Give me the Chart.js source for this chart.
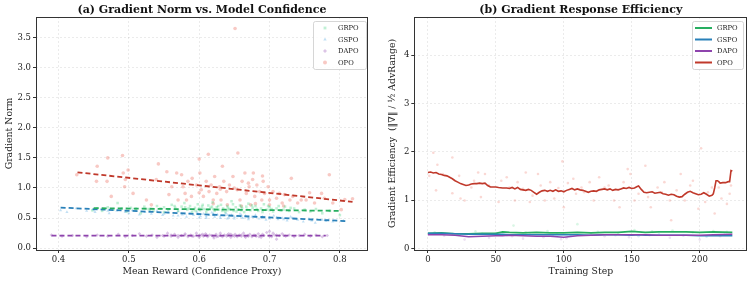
<!DOCTYPE html>
<html>
<head>
<meta charset="utf-8">
<script src="https://cdn.jsdelivr.net/npm/chart.js@4.4.0/dist/chart.umd.min.js"></script>
<style>
  body { margin: 0; background: #fff; }
  #wrap { position: relative; width: 753px; height: 282px; }
  canvas { position: absolute; top: 0; }
</style>
</head>
<body>
<div id="wrap">
  <canvas id="normChart" width="376" height="282" style="left:0"></canvas>
  <canvas id="effChart" width="377" height="282" style="left:376px"></canvas>
</div>
<script>
// ---- (a) gradient norm vs mean reward: [reward, norm] pairs
const grpoPts = [[0.448,0.63],[0.455,0.66],[0.462,0.62],[0.47,0.68],[0.478,0.64],[0.484,0.75],[0.49,0.66],[0.497,0.61],[0.503,0.67],[0.51,0.63],[0.517,0.58],[0.522,0.69],[0.528,0.65],[0.535,0.62],[0.54,0.7],[0.545,0.66],[0.55,0.6],[0.556,0.64],[0.561,0.72],[0.566,0.67],[0.57,0.62],[0.575,0.69],[0.579,0.75],[0.583,0.64],[0.587,0.7],[0.59,0.6],[0.594,0.67],[0.598,0.73],[0.601,0.63],[0.604,0.69],[0.607,0.65],[0.61,0.6],[0.613,0.71],[0.616,0.67],[0.619,0.76],[0.622,0.62],[0.625,0.68],[0.628,0.64],[0.631,0.72],[0.634,0.66],[0.637,0.6],[0.64,0.7],[0.643,0.65],[0.646,0.78],[0.649,0.62],[0.652,0.68],[0.655,0.64],[0.658,0.71],[0.661,0.66],[0.664,0.6],[0.667,0.69],[0.67,0.74],[0.673,0.63],[0.676,0.67],[0.68,0.7],[0.684,0.62],[0.688,0.66],[0.692,0.73],[0.696,0.64],[0.7,0.68],[0.705,0.61],[0.71,0.66],[0.716,0.63],[0.722,0.69],[0.728,0.62],[0.735,0.66],[0.742,0.6],[0.75,0.64],[0.758,0.61],[0.766,0.65],[0.775,0.58],[0.786,0.62],[0.8,0.55],
    [0.565,0.7],[0.585,0.66],[0.595,0.62],[0.605,0.72],[0.612,0.64],[0.618,0.69],[0.627,0.7],[0.633,0.62],[0.641,0.67],[0.648,0.73],[0.653,0.61],[0.66,0.69],[0.668,0.64],[0.675,0.71],[0.682,0.65],[0.69,0.6],[0.698,0.7],[0.703,0.65],[0.713,0.7],[0.72,0.64],[0.73,0.67],[0.6,0.66],[0.62,0.65],[0.64,0.63],[0.66,0.63],[0.58,0.68],[0.55,0.68],[0.53,0.64],[0.51,0.66],[0.7,0.63]];
const gspoPts = [[0.403,0.63],[0.412,0.6],[0.425,0.66],[0.44,0.62],[0.452,0.6],[0.463,0.64],[0.472,0.58],[0.483,0.62],[0.495,0.6],[0.505,0.63],[0.515,0.56],[0.523,0.6],[0.532,0.57],[0.54,0.62],[0.548,0.55],[0.556,0.59],[0.563,0.54],[0.57,0.61],[0.576,0.56],[0.582,0.52],[0.587,0.58],[0.592,0.55],[0.597,0.6],[0.602,0.53],[0.606,0.57],[0.61,0.5],[0.614,0.55],[0.618,0.59],[0.622,0.52],[0.626,0.56],[0.63,0.5],[0.634,0.54],[0.638,0.58],[0.642,0.51],[0.646,0.55],[0.65,0.49],[0.654,0.53],[0.658,0.57],[0.662,0.5],[0.666,0.54],[0.67,0.48],[0.675,0.52],[0.68,0.55],[0.685,0.49],[0.69,0.52],[0.695,0.47],[0.7,0.51],[0.706,0.54],[0.712,0.48],[0.718,0.5],[0.725,0.46],[0.732,0.5],[0.74,0.47],[0.748,0.44],[0.756,0.49],[0.765,0.42],[0.775,0.47],[0.79,0.44],[0.805,0.46],
    [0.58,0.57],[0.6,0.56],[0.61,0.53],[0.62,0.55],[0.63,0.53],[0.64,0.55],[0.65,0.52],[0.66,0.55],[0.67,0.51],[0.68,0.52],[0.69,0.5],[0.7,0.49],[0.71,0.51],[0.72,0.48],[0.6,0.51],[0.62,0.57],[0.64,0.49],[0.66,0.52],[0.57,0.54],[0.55,0.57],[0.53,0.6],[0.5,0.58],[0.47,0.62],[0.45,0.63],[0.73,0.52],[0.76,0.46],[0.78,0.45]];
const dapoPts = [[0.39,0.22],[0.405,0.2],[0.42,0.21],[0.44,0.19],[0.455,0.22],[0.47,0.2],[0.485,0.23],[0.495,0.19],[0.505,0.21],[0.515,0.24],[0.525,0.2],[0.533,0.22],[0.54,0.18],[0.548,0.21],[0.555,0.25],[0.56,0.2],[0.565,0.23],[0.57,0.18],[0.575,0.21],[0.58,0.24],[0.584,0.19],[0.588,0.22],[0.592,0.2],[0.596,0.25],[0.6,0.18],[0.603,0.22],[0.606,0.2],[0.609,0.24],[0.612,0.19],[0.615,0.22],[0.618,0.21],[0.621,0.17],[0.624,0.23],[0.627,0.2],[0.63,0.25],[0.633,0.19],[0.636,0.22],[0.639,0.2],[0.642,0.24],[0.645,0.18],[0.648,0.21],[0.651,0.23],[0.654,0.19],[0.657,0.22],[0.66,0.2],[0.663,0.25],[0.666,0.18],[0.669,0.21],[0.672,0.23],[0.675,0.19],[0.678,0.22],[0.681,0.2],[0.684,0.24],[0.688,0.18],[0.692,0.21],[0.696,0.26],[0.7,0.28],[0.703,0.19],[0.707,0.22],[0.71,0.15],[0.714,0.21],[0.718,0.24],[0.723,0.2],[0.728,0.22],[0.735,0.19],[0.742,0.21],[0.75,0.23],[0.758,0.2],[0.766,0.22],[0.775,0.19],[0.782,0.21],
    [0.6,0.21],[0.61,0.22],[0.62,0.2],[0.63,0.21],[0.64,0.22],[0.65,0.2],[0.66,0.22],[0.67,0.2],[0.68,0.21],[0.69,0.23],[0.7,0.2],[0.71,0.22],[0.72,0.21],[0.59,0.2],[0.58,0.22],[0.57,0.21],[0.56,0.22],[0.55,0.2],[0.605,0.23],[0.625,0.19],[0.645,0.23],[0.665,0.2],[0.685,0.19],[0.705,0.25]];
const opoPts = [[0.426,1.22],[0.455,1.36],[0.454,1.11],[0.47,1.5],[0.469,1.11],[0.475,0.86],[0.491,1.54],[0.492,1.25],[0.494,1.02],[0.499,1.3],[0.495,1.14],[0.506,0.91],[0.525,0.8],[0.532,0.72],[0.542,1.4],[0.539,1.14],[0.554,1.27],[0.557,0.89],[0.561,1.02],[0.568,1.25],[0.57,0.8],[0.575,1.22],[0.577,1.02],[0.58,0.91],[0.582,0.8],[0.584,1.11],[0.589,0.86],[0.596,1.05],[0.6,1.48],[0.601,1.25],[0.603,0.97],[0.606,0.86],[0.61,1.11],[0.613,1.56],[0.614,0.94],[0.617,1.05],[0.62,0.8],[0.622,1.19],[0.625,0.91],[0.629,1.02],[0.631,0.8],[0.633,1.36],[0.635,1.11],[0.639,0.94],[0.643,1.05],[0.648,1.19],[0.651,3.65],[0.655,1.58],[0.654,0.97],[0.658,0.8],[0.661,1.11],[0.665,1.25],[0.667,0.91],[0.671,1.02],[0.673,0.72],[0.676,1.14],[0.677,1.25],[0.679,0.86],[0.682,1.05],[0.686,0.94],[0.689,0.8],[0.691,1.11],[0.693,0.91],[0.698,1.02],[0.7,0.8],[0.705,0.94],[0.71,0.83],[0.714,0.91],[0.718,0.75],[0.721,0.89],[0.729,0.8],[0.731,1.16],[0.733,0.86],[0.74,0.75],[0.745,0.8],[0.752,0.8],[0.757,0.92],[0.764,0.75],[0.774,0.91],[0.778,0.83],[0.785,1.22],[0.79,0.75],[0.802,0.64],[0.807,0.81],[0.818,0.82],
    [0.64,0.72],[0.66,0.7],[0.68,0.74],[0.7,0.72],[0.72,0.7],[0.62,0.74],[0.6,0.92],[0.63,0.98],[0.67,1.08],[0.69,1.2],[0.65,1.0],[0.59,1.16]];

// fitted trend endpoints as drawn in the figure: [x0, y0, x1, y1]
const grpoTrend = [0.45, 0.665, 0.80, 0.62];
const gspoTrend = [0.403, 0.675, 0.81, 0.45];
const dapoTrend = [0.39, 0.21, 0.78, 0.21];
const opoTrend = [0.427, 1.26, 0.818, 0.77];

const rewardTicks = [0.4, 0.5, 0.6, 0.7, 0.8];
const normTicks = [0.0, 0.5, 1.0, 1.5, 2.0, 2.5, 3.0, 3.5];

// ---- (b) gradient efficiency over training steps
const effSteps = [0, 10, 20, 30, 40, 50, 55, 60, 70, 80, 90, 100, 110, 120, 130, 140, 150, 155, 160, 170, 180, 190, 200, 210, 224];
const grpoEff = [0.31, 0.32, 0.3, 0.3, 0.31, 0.31, 0.34, 0.33, 0.32, 0.33, 0.32, 0.32, 0.33, 0.32, 0.33, 0.33, 0.35, 0.34, 0.33, 0.34, 0.34, 0.34, 0.33, 0.34, 0.33];
const gspoEff = [0.31, 0.31, 0.3, 0.29, 0.29, 0.29, 0.29, 0.28, 0.28, 0.28, 0.28, 0.28, 0.28, 0.27, 0.28, 0.28, 0.27, 0.28, 0.27, 0.27, 0.27, 0.27, 0.26, 0.26, 0.26];
const dapoEff = [0.28, 0.28, 0.27, 0.24, 0.25, 0.26, 0.26, 0.27, 0.26, 0.25, 0.25, 0.23, 0.26, 0.27, 0.28, 0.28, 0.28, 0.28, 0.28, 0.27, 0.27, 0.27, 0.27, 0.28, 0.29];

const opoSteps = [0,2,4,6,8,10,12,14,16,18,20,22,24,26,28,30,32,34,36,38,40,42,44,46,48,50,52,55,58,60,62,64,66,68,70,72,74,76,78,80,82,84,86,88,90,92,94,96,98,100,102,104,106,108,110,112,114,116,118,120,122,124,126,128,130,132,134,136,138,140,142,144,146,148,150,152,154,155,157,159,161,163,165,167,169,171,173,175,177,179,181,183,185,187,189,191,193,195,197,199,201,203,205,207,209,210,211,212,213,214,215,217,219,221,222,223,224];
const opoEff = [1.57,1.58,1.56,1.57,1.54,1.53,1.51,1.5,1.47,1.44,1.4,1.37,1.34,1.32,1.3,1.31,1.33,1.34,1.34,1.35,1.34,1.35,1.3,1.27,1.27,1.27,1.26,1.25,1.25,1.24,1.26,1.23,1.26,1.22,1.21,1.2,1.22,1.2,1.16,1.12,1.16,1.19,1.2,1.18,1.2,1.18,1.21,1.18,1.19,1.17,1.2,1.22,1.24,1.21,1.23,1.21,1.2,1.18,1.16,1.18,1.19,1.18,1.21,1.22,1.23,1.21,1.23,1.2,1.22,1.21,1.23,1.25,1.24,1.26,1.24,1.25,1.28,1.29,1.22,1.16,1.15,1.16,1.17,1.14,1.15,1.16,1.13,1.12,1.1,1.12,1.11,1.08,1.06,1.07,1.12,1.16,1.18,1.15,1.13,1.11,1.12,1.15,1.12,1.08,1.1,1.13,1.25,1.4,1.4,1.38,1.35,1.36,1.36,1.38,1.38,1.61,1.6];

// raw per-step samples: [step, efficiency]
const opoRaw = [[1,1.5],[4,1.98],[6,1.2],[7,1.73],[11,1.54],[18,1.88],[18,1.14],[23,1.5],[24,1.03],[27,0.99],[32,1.26],[34,1.4],[37,1.57],[39,1.06],[42,1.54],[45,1.3],[52,0.96],[54,1.4],[58,1.47],[60,1.26],[64,0.99],[66,1.37],[70,1.23],[72,1.57],[75,0.96],[77,1.09],[81,1.54],[83,1.3],[86,0.99],[90,1.37],[93,1.03],[96,1.25],[99,1.8],[100,0.85],[103,1.35],[107,1.44],[109,1.13],[113,1.26],[115,1.16],[119,1.37],[122,0.99],[126,1.47],[130,1.26],[133,1.3],[137,0.99],[141,0.85],[144,1.37],[147,1.64],[149,1.54],[152,0.99],[155,1.13],[160,1.71],[162,1.06],[164,0.85],[169,1.26],[172,1.16],[174,1.37],[178,0.99],[179,0.58],[183,1.2],[186,1.54],[189,0.99],[193,1.3],[195,1.4],[199,0.82],[201,2.07],[204,0.96],[206,1.16],[209,1.26],[211,0.72],[214,1.26],[216,1.03],[220,0.92],[222,1.13],[223,1.3]];
const grpoRaw = [[5,0.33],[18,0.3],[35,0.35],[50,0.31],[63,0.47],[72,0.33],[88,0.36],[95,0.3],[110,0.5],[125,0.34],[140,0.32],[152,0.38],[165,0.35],[180,0.37],[195,0.33],[210,0.36],[220,0.34]];
const gspoRaw = [[8,0.31],[22,0.28],[40,0.3],[58,0.27],[75,0.29],[92,0.26],[105,0.28],[120,0.3],[138,0.27],[155,0.25],[170,0.29],[188,0.26],[205,0.24],[218,0.28]];
const dapoRaw = [[12,0.26],[27,0.18],[45,0.22],[62,0.25],[70,0.2],[85,0.23],[98,0.19],[102,0.21],[130,0.25],[148,0.23],[163,0.27],[178,0.22],[200,0.18],[215,0.25]];

const stepTicks = [0, 50, 100, 150, 200];
const effTicks = [0, 1, 2, 3, 4];

const methods = ['GRPO', 'GSPO', 'DAPO', 'OPO'];
const COLORS = { GRPO: '#27ae60', GSPO: '#2980b9', DAPO: '#8e44ad', OPO: '#c0392b' };
const LIGHT = {
    GRPO: 'rgba(46, 204, 113, 0.3)',
    GSPO: 'rgba(52, 152, 219, 0.3)',
    DAPO: 'rgba(155, 89, 182, 0.35)',
    OPO: 'rgba(231, 76, 60, 0.3)'
};
const MARKERS = { GRPO: 'rect', GSPO: 'triangle', DAPO: 'rectRot', OPO: 'circle' };

const SERIF = "'DejaVu Serif', serif";
const tickFont = { family: SERIF, size: 8.5 };
const axisFont = { family: SERIF, size: 9.3 };

const toXY = pts => pts.map(p => ({ x: p[0], y: p[1] }));
const trendXY = t => [{ x: t[0], y: t[1] }, { x: t[2], y: t[3] }];

// panel title, frame and in-plot legend
const panelDecor = {
    id: 'panelDecor',
    afterDraw(chart, args, opts) {
        const { ctx, chartArea: a } = chart;
        ctx.save();
        // frame on all four sides
        ctx.strokeStyle = '#333';
        ctx.lineWidth = 1;
        ctx.strokeRect(Math.round(a.left) + 0.5, Math.round(a.top) + 0.5,
            Math.round(a.right - a.left) - 1, Math.round(a.bottom - a.top));
        // title
        ctx.fillStyle = '#111';
        ctx.font = `bold 11px ${SERIF}`;
        ctx.textAlign = 'center';
        ctx.textBaseline = 'middle';
        ctx.fillText(opts.title, (a.left + a.right) / 2, 10);
        // legend box
        const L = opts.legend;
        ctx.fillStyle = 'rgba(255,255,255,0.85)';
        ctx.strokeStyle = '#cccccc';
        ctx.lineWidth = 0.8;
        ctx.beginPath();
        ctx.roundRect(L.x + 0.5, L.y + 0.5, L.w, L.h, 2);
        ctx.fill();
        ctx.stroke();
        ctx.font = `6.8px ${SERIF}`;
        ctx.textAlign = 'left';
        methods.forEach((m, i) => {
            const y = L.y + 7 + i * 11.5;
            if (L.kind === 'line') {
                ctx.strokeStyle = COLORS[m];
                ctx.lineWidth = 2;
                ctx.beginPath();
                ctx.moveTo(L.x + 3, y);
                ctx.lineTo(L.x + 20, y);
                ctx.stroke();
            } else {
                ctx.fillStyle = LIGHT[m];
                ctx.strokeStyle = 'rgba(0,0,0,0)';
                Chart.helpers.drawPoint(ctx, {
                    pointStyle: MARKERS[m], radius: 2, rotation: 0, borderWidth: 0
                }, L.x + 12, y);
            }
            ctx.fillStyle = '#222';
            ctx.fillText(m, L.x + L.textDx, y + 0.5);
        });
        ctx.restore();
    }
};

const gridOpts = { color: 'rgba(0,0,0,0.08)', tickColor: '#333', tickLength: 3, tickBorderDash: [] };

// ---- chart (a)
const scatterSets = [grpoPts, gspoPts, dapoPts, opoPts].map((pts, i) => {
    const m = methods[i];
    return {
        type: 'scatter', label: m, data: toXY(pts), order: 2,
        pointStyle: MARKERS[m], pointRadius: 1.8, pointHoverRadius: 1.8,
        backgroundColor: LIGHT[m], borderColor: LIGHT[m], borderWidth: 0
    };
});
const trendSets = [opoTrend, grpoTrend, gspoTrend, dapoTrend].map((t, i) => {
    const m = ['OPO', 'GRPO', 'GSPO', 'DAPO'][i];
    return {
        type: 'line', label: m + ' trend', data: trendXY(t), order: 1,
        borderColor: COLORS[m], borderWidth: 1.8, borderDash: [5, 3],
        pointRadius: 0, fill: false
    };
});

new Chart(document.getElementById('normChart'), {
    data: { datasets: [...scatterSets, ...trendSets] },
    options: {
        responsive: false,
        animation: false,
        layout: { padding: { left: 0, right: 8, top: 17, bottom: 0 } },
        plugins: {
            legend: { display: false },
            tooltip: { enabled: false },
            panelDecor: {
                title: '(a) Gradient Norm vs. Model Confidence',
                legend: { x: 313, y: 21, w: 53, h: 48, kind: 'marker', textDx: 25 }
            }
        },
        scales: {
            x: {
                type: 'linear', min: 0.368, max: 0.84,
                afterBuildTicks: s => { s.ticks = rewardTicks.map(v => ({ value: v })); },
                afterFit: s => { s.height = 32; },
                ticks: { font: tickFont, color: '#222', padding: 2, callback: v => v.toFixed(1) },
                grid: gridOpts,
                border: { display: false, dash: [2, 2] },
                title: { display: true, text: 'Mean Reward (Confidence Proxy)', font: axisFont, color: '#222', padding: { top: 0, bottom: 5 } }
            },
            y: {
                type: 'linear', min: -0.03, max: 3.84,
                afterBuildTicks: s => { s.ticks = normTicks.map(v => ({ value: v })); },
                afterFit: s => { s.width = 36; },
                ticks: { font: tickFont, color: '#222', padding: 2, callback: v => v.toFixed(1) },
                grid: gridOpts,
                border: { display: false, dash: [2, 2] },
                title: { display: true, text: 'Gradient Norm', font: axisFont, color: '#222', padding: { top: 4, bottom: 0 } }
            }
        }
    },
    plugins: [panelDecor]
});

// ---- chart (b)
const rawSets = [grpoRaw, gspoRaw, dapoRaw, opoRaw].map((pts, i) => {
    const m = methods[i];
    return {
        type: 'scatter', label: m + ' raw', data: toXY(pts), order: 2,
        pointStyle: 'circle', pointRadius: 1.3, pointHoverRadius: 1.3,
        backgroundColor: m === 'OPO' ? 'rgba(231, 76, 60, 0.22)' : LIGHT[m].replace(/[\d.]+\)$/, '0.18)'),
        borderWidth: 0
    };
});
const effLine = (m, steps, vals) => ({
    type: 'line', label: m, order: 1,
    data: steps.map((s, i) => ({ x: s, y: vals[i] })),
    borderColor: COLORS[m], borderWidth: 1.6, pointRadius: 0, fill: false, tension: 0
});

new Chart(document.getElementById('effChart'), {
    data: {
        datasets: [
            effLine('OPO', opoSteps, opoEff),
            effLine('DAPO', effSteps, dapoEff),
            effLine('GSPO', effSteps, gspoEff),
            effLine('GRPO', effSteps, grpoEff),
            ...rawSets
        ]
    },
    options: {
        responsive: false,
        animation: false,
        layout: { padding: { left: 0, right: 5.7, top: 17, bottom: 0 } },
        plugins: {
            legend: { display: false },
            tooltip: { enabled: false },
            panelDecor: {
                title: '(b) Gradient Response Efficiency',
                legend: { x: 316, y: 21, w: 51, h: 48, kind: 'line', textDx: 25 }
            }
        },
        scales: {
            x: {
                type: 'linear', min: -10, max: 235,
                afterBuildTicks: s => { s.ticks = stepTicks.map(v => ({ value: v })); },
                afterFit: s => { s.height = 32; },
                ticks: { font: tickFont, color: '#222', padding: 2 },
                grid: gridOpts,
                border: { display: false, dash: [2, 2] },
                title: { display: true, text: 'Training Step', font: axisFont, color: '#222', padding: { top: 0, bottom: 5 } }
            },
            y: {
                type: 'linear', min: -0.035, max: 4.79,
                afterBuildTicks: s => { s.ticks = effTicks.map(v => ({ value: v })); },
                afterFit: s => { s.width = 38.3; },
                ticks: { font: tickFont, color: '#222', padding: 2 },
                grid: gridOpts,
                border: { display: false, dash: [2, 2] },
                title: { display: true, text: 'Gradient Efficiency  (‖∇‖ / ½ AdvRange)', font: axisFont, color: '#222', padding: { top: 11, bottom: 0 } }
            }
        }
    },
    plugins: [panelDecor]
});
</script>
</body>
</html>
